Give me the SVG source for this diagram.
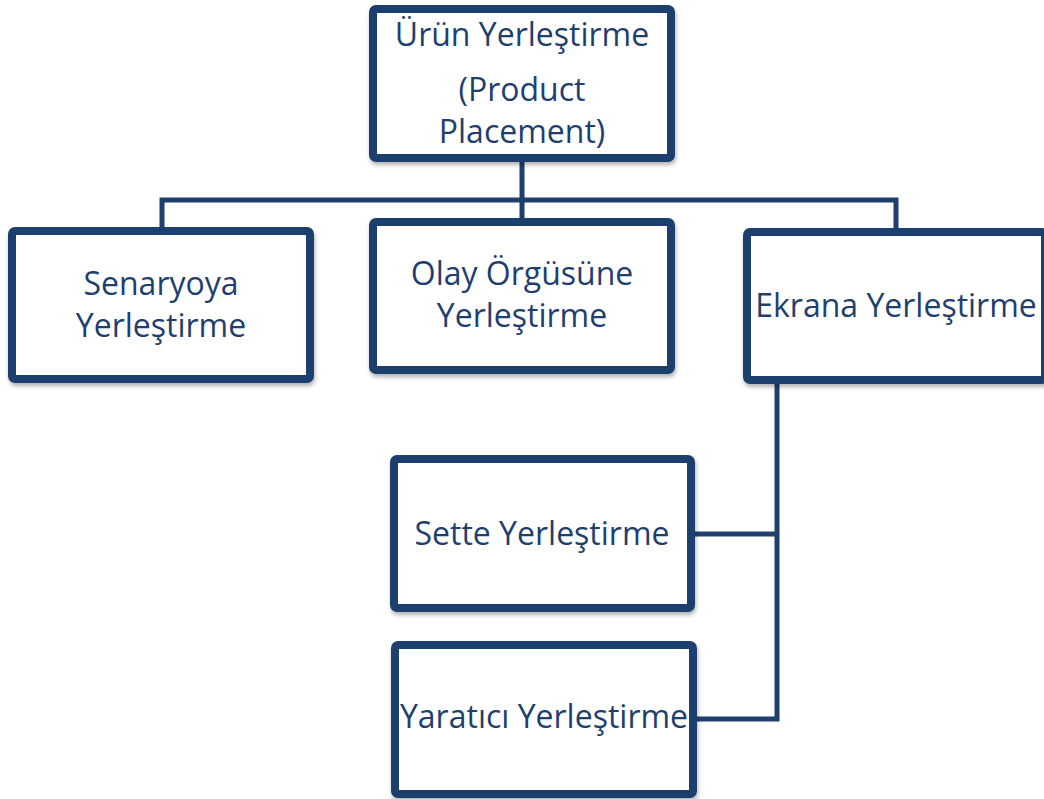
<svg xmlns="http://www.w3.org/2000/svg" width="1044" height="799" viewBox="0 0 1044 799">
<defs>
<filter id="sh" x="-10%" y="-10%" width="120%" height="130%">
<feDropShadow dx="1" dy="3" stdDeviation="2" flood-color="#000" flood-opacity="0.3"/>
</filter>
<style>
.box{fill:#fff;stroke:#1f3f6e;stroke-width:8;filter:url(#sh)}
.ln{fill:none;stroke:#1f3f6e;stroke-width:5}
text{font-family:"Open Sans","Liberation Sans",sans-serif;font-size:32px;fill:#1f3f6e;text-anchor:middle}
</style>
</defs>
<rect x="0" y="0" width="1044" height="799" fill="#fff"/>
<g id="connectors">
<path class="ln" d="M522 160V200M162 231V200H896V232M522 200V222"/>
<path class="ln" d="M777 382V719H695M691 534H777"/>
</g>
<g id="root">
<rect class="box" x="373" y="9" width="298" height="149" rx="3"/>
<text x="522" y="46">Ürün Yerleştirme</text>
<text x="522" y="101">(Product</text>
<text x="522" y="143">Placement)</text>
</g>
<g id="senaryoya">
<rect class="box" x="12" y="231" width="298" height="148" rx="3"/>
<text x="161" y="295">Senaryoya</text>
<text x="161" y="337">Yerleştirme</text>
</g>
<g id="olay">
<rect class="box" x="373" y="222" width="298" height="148" rx="3"/>
<text x="522" y="285">Olay Örgüsüne</text>
<text x="522" y="327">Yerleştirme</text>
</g>
<g id="ekrana">
<rect class="box" x="747" y="232" width="298" height="148" rx="3"/>
<text x="896" y="317">Ekrana Yerleştirme</text>
</g>
<g id="sette">
<rect class="box" x="394" y="459" width="297" height="149" rx="3"/>
<text x="542" y="545">Sette Yerleştirme</text>
</g>
<g id="yaratici">
<rect class="box" x="395" y="645" width="298" height="149" rx="3"/>
<text x="544" y="728">Yaratıcı Yerleştirme</text>
</g>
</svg>
